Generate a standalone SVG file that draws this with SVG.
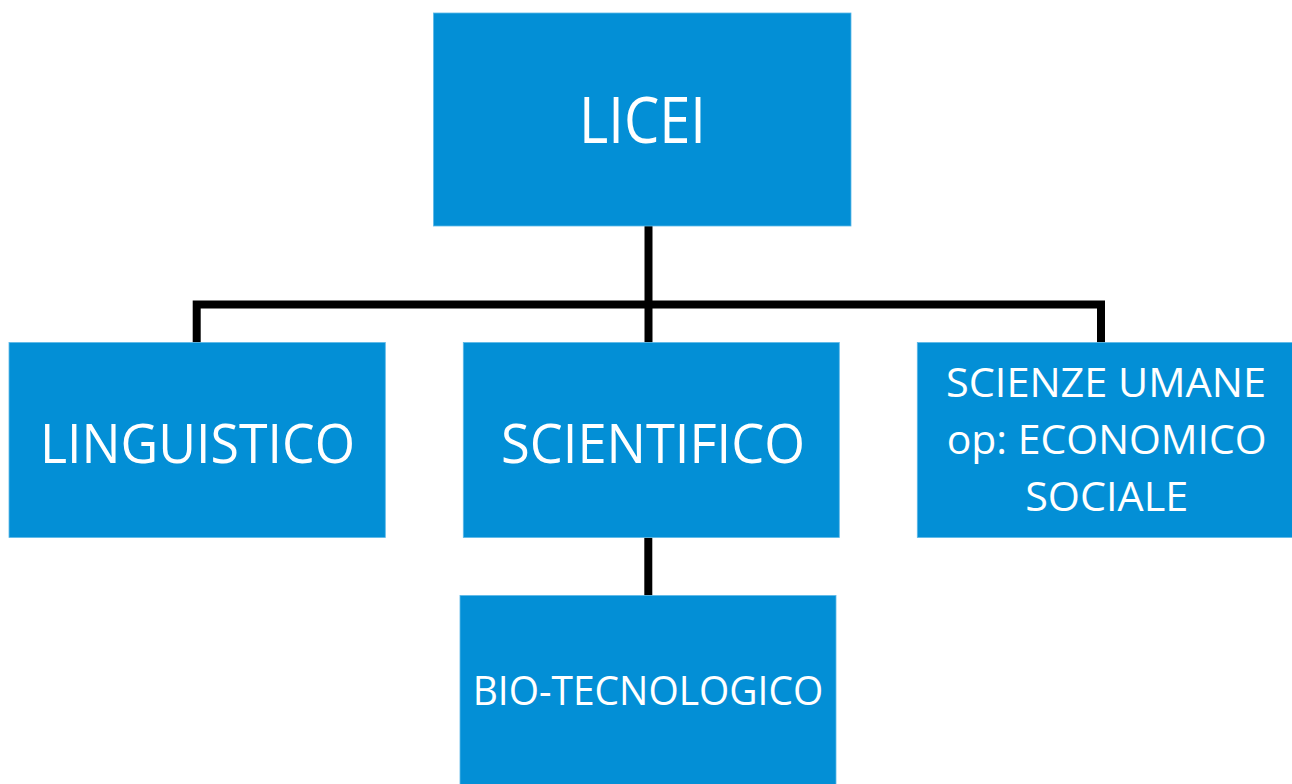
<svg xmlns="http://www.w3.org/2000/svg" width="1292" height="784" viewBox="0 0 1292 784">
<style>
.box{fill:#038FD6;stroke:#5DB8E8;stroke-width:0.8}
.t{fill:#FFFFFF;font-family:"Open Sans","Noto Sans","DejaVu Sans",sans-serif;text-anchor:middle}
.c{fill:none;stroke:#000000;stroke-width:8;stroke-linecap:butt;stroke-linejoin:miter}
</style>
<rect width="1292" height="784" fill="#FFFFFF"/>
<g id="connectors">
<path class="c" d="M648.5,226 V304.5"/>
<path class="c" d="M196.7,342.5 V304.5 H1101 V342.5"/>
<path class="c" d="M648.5,304.5 V342.5"/>
<path class="c" d="M648.3,537.5 V595.5"/>
</g>
<g id="licei">
<rect class="box" x="433.5" y="13" width="417.5" height="213"/>
<text class="t" x="642.5" y="143" font-size="64" textLength="127" lengthAdjust="spacingAndGlyphs">LICEI</text>
</g>
<g id="linguistico">
<rect class="box" x="9" y="342.5" width="376.3" height="195"/>
<text class="t" x="197.5" y="462.7" font-size="54" textLength="315" lengthAdjust="spacingAndGlyphs">LINGUISTICO</text>
</g>
<g id="scientifico">
<rect class="box" x="463.3" y="342.5" width="376" height="195"/>
<text class="t" x="653" y="462.7" font-size="54" textLength="304" lengthAdjust="spacingAndGlyphs">SCIENTIFICO</text>
</g>
<g id="scienze-umane">
<rect class="box" x="917.3" y="342.5" width="376" height="195"/>
<text class="t" x="1106" y="397.3" font-size="41" textLength="320" lengthAdjust="spacingAndGlyphs">SCIENZE UMANE</text>
<text class="t" x="1106.7" y="453.5" font-size="41" textLength="320" lengthAdjust="spacingAndGlyphs">op: ECONOMICO</text>
<text class="t" x="1106.7" y="510.7" font-size="41" textLength="163" lengthAdjust="spacingAndGlyphs">SOCIALE</text>
</g>
<g id="bio-tecnologico">
<rect class="box" x="460" y="595.5" width="376" height="190"/>
<text class="t" x="648" y="705.3" font-size="41" textLength="350.6" lengthAdjust="spacingAndGlyphs">BIO-TECNOLOGICO</text>
</g>
</svg>
